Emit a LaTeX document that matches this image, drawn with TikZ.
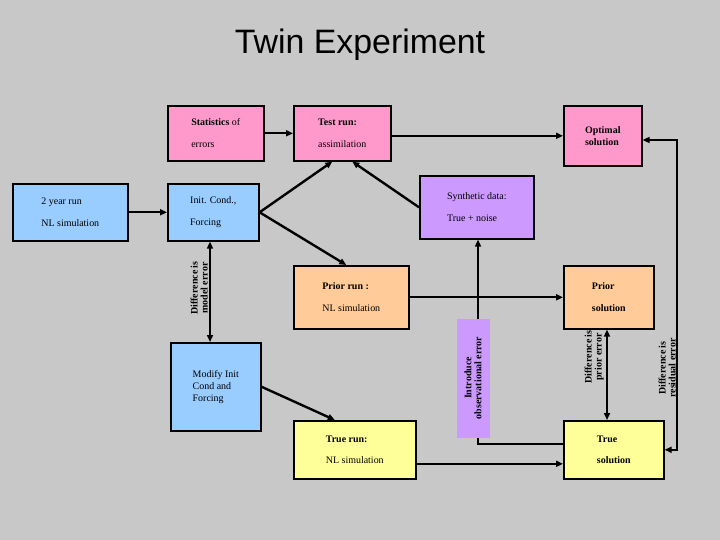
\documentclass[tikz,border=0pt]{standalone}
\usepackage{fontspec}
\setmainfont{Liberation Serif}
\newfontfamily\titlefont{Liberation Sans}
\usetikzlibrary{arrows.meta}
\definecolor{bgray}{RGB}{200,200,200}
\definecolor{pinkbox}{RGB}{255,153,204}
\definecolor{bluebox}{RGB}{153,204,255}
\definecolor{purplebox}{RGB}{204,153,255}
\definecolor{orangebox}{RGB}{255,204,153}
\definecolor{yellowbox}{RGB}{255,255,153}
\begin{document}
\begin{tikzpicture}[x=1bp, y=-1bp, >={Triangle[length=7pt,width=6pt]},
      box/.style={draw=black, line width=1.6pt, anchor=north west, align=left, inner sep=5pt},
      pinkb/.style={box, fill=pinkbox},
      blueb/.style={box, fill=bluebox},
      purpleb/.style={box, fill=purplebox},
      orangeb/.style={box, fill=orangebox},
      yellowb/.style={box, fill=yellowbox},
      link/.style={line width=2.4pt, ->},
      thinlink/.style={line width=1.6pt},
      note/.style={rotate=90, font=\bfseries\fontsize{10}{10}\selectfont, align=center, inner sep=1pt}]
      \fill[bgray] (0,0) rectangle (720,540);
      \node (title) at (360,45) {\titlefont\fontsize{34}{34}\selectfont Twin Experiment};
      % top row
      \node[pinkb, minimum width=96bp, minimum height=55bp] (stats) at (167,105) {\textbf{Statistics} of\\[10pt]errors};
      \node[pinkb, minimum width=97bp, minimum height=55bp] (test) at (293,105) {\textbf{Test run:}\\[10pt]assimilation};
      \node[pinkb, minimum width=78bp, minimum height=60bp] (optimal) at (563,105) {\textbf{Optimal}\\\textbf{solution}};
      % second row
      \node[blueb, minimum width=115bp, minimum height=57bp] (twoyear) at (12,183) {2 year run\\[10pt]NL simulation};
      \node[blueb, minimum width=91bp, minimum height=57bp] (init) at (167,183) {Init. Cond.,\\[10pt]Forcing};
      \node[purpleb, minimum width=114bp, minimum height=63bp] (synth) at (419,175) {Synthetic data:\\[10pt]True + noise};
      % prior
      \node[orangeb, minimum width=115bp, minimum height=63bp] (prior) at (293,265) {\textbf{Prior run :}\\[10pt]NL simulation};
      \node[orangeb, minimum width=90bp, minimum height=63bp] (priorsol) at (563,265) {\textbf{Prior}\\[10pt]\textbf{solution}};
      % bottom
      \node[blueb, minimum width=90bp, minimum height=88bp] (modify) at (170,342) {Modify Init\\Cond and\\Forcing};
      \node[yellowb, minimum width=122bp, minimum height=58bp] (truerun) at (293,420) {\textbf{True run:}\\[10pt]NL simulation};
      \node[yellowb, minimum width=100bp, minimum height=58bp] (truesol) at (563,420) {\textbf{True}\\[10pt]\textbf{solution}};
      \coordinate (obs) at (478,443);
      \coordinate (resid) at (677,140);
      \coordinate (truelow) at ([yshift=-14bp]truerun.east);
      % connectors
      \draw[link] (stats) -- (test);
      \draw[link] (test.east |- optimal.west) -- (optimal.west);
      \draw[link] (twoyear) -- (init);
      \draw[link] (init.east) -- ([xshift=-10bp]test.south);
      \draw[link] (synth.west) -- ([xshift=10bp]test.south);
      \draw[link] (init.east) -- ([xshift=-5bp]prior.north);
      \draw[link] (prior.east |- priorsol.west) -- (priorsol.west);
      \draw[link] (modify.east) -- ([xshift=-20bp]truerun.north);
      \draw[link] (truelow) -- (truesol.west |- truelow);
      \draw[thinlink, ->] ([yshift=6bp]truesol.west) -| (synth.south -| obs);
      \node[fill=purplebox, note, minimum width=119bp, minimum height=33bp] (introduce) at (473,378) {Introduce\\observational error};
      \draw[thinlink, <->] ([xshift=43bp]init.south west) -- ([xshift=40bp]modify.north west);
      \node[note, anchor=south] (modelerr) at (209,288) {Difference is\\model error};
      \draw[thinlink, <->] ([xshift=44bp]priorsol.south west) -- ([xshift=44bp]truesol.north west);
      \node[note, anchor=south] (priorerr) at (605,357) {Difference is\\prior error};
      \draw[thinlink, <->] (optimal.east |- resid) -- (resid) |- (truesol.east);
      \node[note, anchor=south] (residerr) at (677,368) {Difference is\\residual error};
\end{tikzpicture}
\end{document}
